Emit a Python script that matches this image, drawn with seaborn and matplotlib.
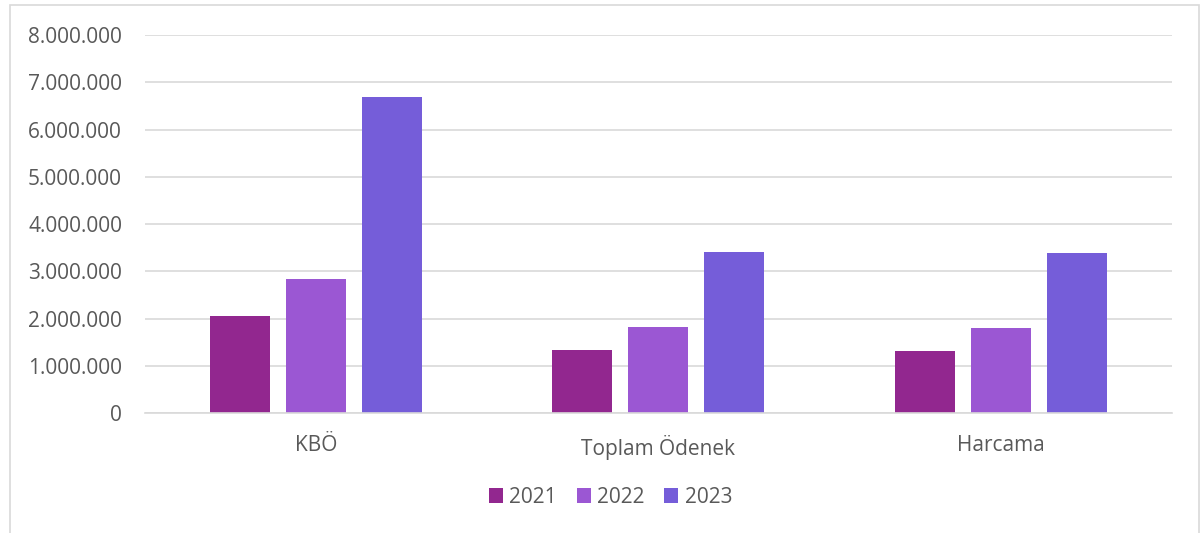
import matplotlib
matplotlib.use("Agg")
import matplotlib.pyplot as plt
import seaborn as sns
import pandas as pd
from matplotlib.patches import Rectangle
from matplotlib.ticker import FuncFormatter

categories = ["KBÖ", "Toplam Ödenek", "Harcama"]
years = ["2021", "2022", "2023"]
values_2021 = [2060000, 1340000, 1310000]
values_2022 = [2840000, 1820000, 1800000]
values_2023 = [6690000, 3400000, 3380000]
colors = ["#92278F", "#9B57D3", "#755DD9"]
yticks = list(range(0, 8000001, 1000000))

rows = []
for y, vals in zip(years, [values_2021, values_2022, values_2023]):
    for c, v in zip(categories, vals):
        rows.append({"cat": c, "year": y, "value": v})
df = pd.DataFrame(rows)

sns.set_theme(style="white")
plt.rcParams["font.family"] = ["Open Sans", "DejaVu Sans"]
text_color = "#595959"

fig = plt.figure(figsize=(12.02, 5.33), dpi=100)
ax = fig.add_axes([0.1206, 0.2251, 0.975 - 0.1206, 0.9343 - 0.2251])

sns.barplot(data=df, x="cat", y="value", hue="year", palette=colors,
            width=0.666, gap=0.21, ax=ax, saturation=1, linewidth=0)

ax.set_ylim(0, 8000000)
ax.set_xlim(-0.5, 2.5)
ax.set_yticks(yticks)
ax.yaxis.set_major_formatter(FuncFormatter(lambda v, p: f"{int(v):,}".replace(",", ".")))
ax.grid(axis="y", color="#D9D9D9", linewidth=1.2)
ax.set_axisbelow(True)
for s in ["top", "right", "left"]:
    ax.spines[s].set_visible(False)
ax.spines["bottom"].set_color("#D9D9D9")
ax.spines["bottom"].set_linewidth(1.2)
ax.tick_params(axis="both", length=0, colors=text_color, labelsize=15)
ax.tick_params(axis="y", pad=16.5)
ax.tick_params(axis="x", pad=16)
ax.set_xlabel("")
ax.set_ylabel("")

handles, labels = ax.get_legend_handles_labels()
if ax.legend_:
    ax.legend_.remove()
leg = fig.legend(handles, labels, loc="center", bbox_to_anchor=(0.508, 0.067), ncol=3,
                 frameon=False, fontsize=15, handlelength=0.67, handleheight=0.67,
                 columnspacing=0.95, handletextpad=0.3)
for t in leg.get_texts():
    t.set_color(text_color)

fig.patches.append(Rectangle((10 / 1202, -0.05), (1199 - 10) / 1202, 1.05 - 5 / 533,
                             transform=fig.transFigure, fill=False,
                             edgecolor="#D9D9D9", linewidth=1.2))

fig.savefig("out.png", dpi=100)
